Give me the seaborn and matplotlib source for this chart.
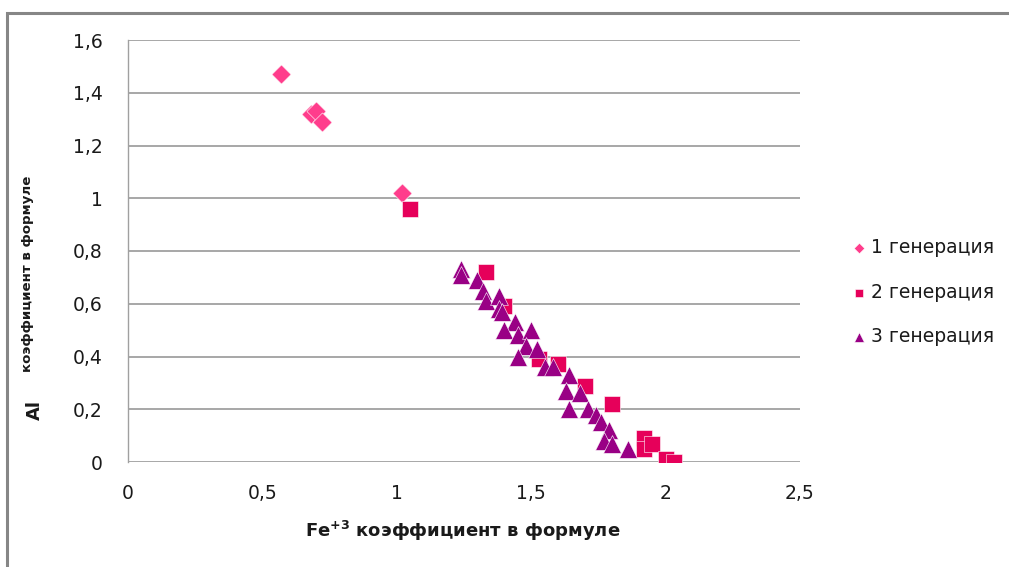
import matplotlib
matplotlib.use("Agg")
import matplotlib.pyplot as plt
import seaborn as sns
from matplotlib.patches import Rectangle
from matplotlib.ticker import FixedLocator, FuncFormatter

# Fe+3 vs Al formula coefficients for three generations
gen1_fe = [0.57, 0.68, 0.70, 0.72, 1.02]
gen1_al = [1.47, 1.32, 1.33, 1.29, 1.02]

gen2_fe = [1.05, 1.33, 1.40, 1.53, 1.60, 1.70, 1.80, 1.92, 1.92, 1.95, 2.00, 2.03]
gen2_al = [0.96, 0.72, 0.59, 0.39, 0.37, 0.29, 0.22, 0.09, 0.05, 0.07, 0.01, 0.00]

gen3_fe = [1.24, 1.24, 1.30, 1.32, 1.33, 1.38, 1.38, 1.39, 1.44, 1.40, 1.45, 1.50,
           1.48, 1.45, 1.52, 1.55, 1.58, 1.64, 1.63, 1.68, 1.64, 1.71, 1.74, 1.76,
           1.79, 1.77, 1.80, 1.86]
gen3_al = [0.73, 0.71, 0.69, 0.65, 0.61, 0.63, 0.58, 0.57, 0.53, 0.50, 0.48, 0.50,
           0.44, 0.40, 0.43, 0.36, 0.36, 0.33, 0.27, 0.26, 0.20, 0.20, 0.18, 0.15,
           0.12, 0.08, 0.07, 0.05]

series_names = ["1 генерация", "2 генерация", "3 генерация"]
x_ticks = [0, 0.5, 1, 1.5, 2, 2.5]
y_ticks = [0, 0.2, 0.4, 0.6, 0.8, 1.0, 1.2, 1.4, 1.6]

sns.set_theme(style="white")
plt.rcParams["font.family"] = ["DejaVu Sans"]
plt.rcParams["mathtext.fontset"] = "custom"
plt.rcParams["mathtext.rm"] = "DejaVu Sans:bold"
plt.rcParams["mathtext.bf"] = "DejaVu Sans:bold"

W, H = 1009, 567
TXT = "#1a1a1a"
fig = plt.figure(figsize=(W / 100, H / 100), dpi=100)
fig.patch.set_facecolor("white")
ax = fig.add_axes([128 / W, 1 - 462 / H, 672 / W, 422 / H])

styles = [
    (gen1_fe, gen1_al, "D", "#FF3D8C", 95),
    (gen2_fe, gen2_al, "s", "#E6005A", 130),
    (gen3_fe, gen3_al, "^", "#990085", 165),
]
for (xs, ys, mk, col, size), name in zip(styles, series_names):
    sns.scatterplot(x=xs, y=ys, marker=mk, color=col, s=size, ax=ax,
                    edgecolor="white", linewidth=0.4, label=name, zorder=3)

ax.set_xlim(0, 2.5)
ax.set_ylim(0, 1.6)
fmt = FuncFormatter(lambda v, p: f"{v:g}".replace(".", ","))
ax.xaxis.set_major_locator(FixedLocator(x_ticks))
ax.yaxis.set_major_locator(FixedLocator(y_ticks))
ax.xaxis.set_major_formatter(fmt)
ax.yaxis.set_major_formatter(fmt)
ax.tick_params(axis="both", length=0, labelsize=13.5, colors=TXT)
ax.tick_params(axis="y", pad=18)
ax.tick_params(axis="x", pad=16)
ax.yaxis.grid(True, color="#A0A0A0", linewidth=1.3)
ax.xaxis.grid(False)
ax.set_axisbelow(True)
for side in ["top", "right", "bottom"]:
    ax.spines[side].set_visible(False)
ax.spines["left"].set_color("#A0A0A0")
ax.spines["left"].set_linewidth(1.0)
ax.set_xlabel("")
ax.set_ylabel("")

leg = ax.legend(loc="center left", bbox_to_anchor=(833 / W, 1 - 292 / H),
                bbox_transform=fig.transFigure, frameon=False, fontsize=13.5,
                labelspacing=1.35, handletextpad=0.15, handlelength=1.0,
                markerscale=0.55)
for t in leg.get_texts():
    t.set_color(TXT)

fig.text(463 / W, 1 - 531 / H, r"Fe$^{+3}$ коэффициент в формуле",
         ha="center", va="center", fontsize=13, fontweight="bold", color=TXT)
fig.text(35 / W, 1 - 410 / H, "Al", rotation=90, ha="center", va="center",
         fontsize=13, fontweight="bold", color=TXT)
fig.text(28 / W, 1 - 274 / H, "коэффициент в формуле", rotation=90,
         ha="center", va="center", fontsize=9.6, fontweight="bold", color=TXT)

# outer chart-area border
fig.add_artist(Rectangle((7 / W, -0.2), 1.2, 1.2 - 13 / H,
                         transform=fig.transFigure, fill=False,
                         edgecolor="#868686", linewidth=2.2))

fig.savefig("out.png", dpi=100, facecolor="white")
